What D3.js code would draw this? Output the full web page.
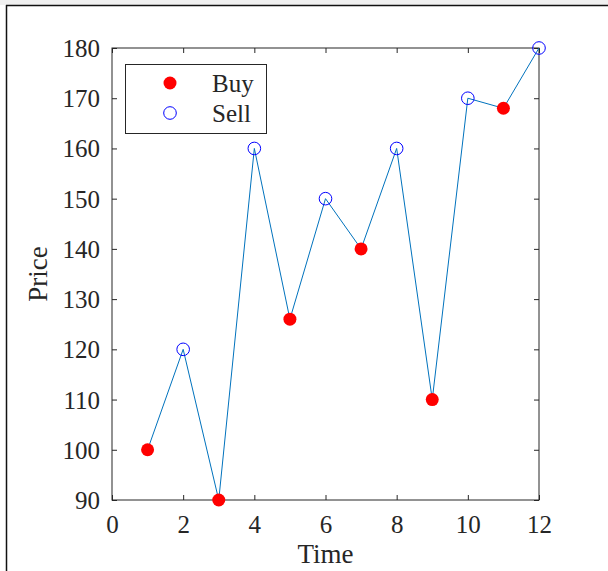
<!DOCTYPE html>
<html>
<head>
<meta charset="utf-8">
<script src="https://cdn.jsdelivr.net/npm/d3@7"></script>
<style>
  body { margin: 0; background: #fff; }
  svg { display: block; }
  text { font-family: "Liberation Serif", "Times New Roman", serif; fill: #262626; }
</style>
</head>
<body>
<div id="container"></div>
<script>
(function(){
    // data
    var times = [1, 2, 3, 4, 5, 6, 7, 8, 9, 10, 11, 12];
    var prices = [100, 120, 90, 160, 126, 150, 140, 160, 110, 170, 168, 180];
    var actions = ["Buy", "Sell", "Buy", "Sell", "Buy", "Sell", "Buy", "Sell", "Buy", "Sell", "Buy", "Sell"];
    var xTicks = [0, 2, 4, 6, 8, 10, 12];
    var yTicks = [90, 100, 110, 120, 130, 140, 150, 160, 170, 180];
    var legendItems = ["Buy", "Sell"];

    window.onload = drawChart();

    function drawChart(){
        var width = 608, height = 571;
        var left = 112, right = 539, top = 48, bottom = 500;

        var svg = d3.select("#container")
            .append("svg")
            .attr("width", width)
            .attr("height", height);

        // figure frame
        svg.append("rect").attr("x", 0).attr("y", 0).attr("width", width).attr("height", 5).attr("fill", "#f0f0f0");
        svg.append("line").attr("x1", 6).attr("x2", width).attr("y1", 5.5).attr("y2", 5.5).attr("stroke", "#111").attr("stroke-width", 1.5);
        svg.append("line").attr("x1", 6.5).attr("x2", 6.5).attr("y1", 5).attr("y2", height).attr("stroke", "#111").attr("stroke-width", 1.5);

        var x = d3.scaleLinear().domain([0, 12]).range([left, right]);
        var y = d3.scaleLinear().domain([90, 180]).range([bottom, top]);

        var tickLen = 5;
        var axisColor = "#262626";

        function styleAxis(g){
            g.select(".domain").remove();
            g.selectAll(".tick line").attr("stroke", axisColor);
        }

        // bottom axis with labels
        svg.append("g")
            .attr("transform", "translate(0," + bottom + ")")
            .call(d3.axisBottom(x).tickValues(xTicks).tickSize(-tickLen).tickFormat(d3.format("d")))
            .call(styleAxis)
            .selectAll("text")
            .attr("y", 33).attr("dy", 0)
            .style("font-size", "25px").attr("fill", axisColor);
        // top mirror ticks
        svg.append("g")
            .attr("transform", "translate(0," + top + ")")
            .call(d3.axisTop(x).tickValues(xTicks).tickSize(-tickLen).tickFormat(""))
            .call(styleAxis);
        // left axis with labels
        svg.append("g")
            .attr("transform", "translate(" + left + ",0)")
            .call(d3.axisLeft(y).tickValues(yTicks).tickSize(-tickLen).tickFormat(d3.format("d")))
            .call(styleAxis)
            .selectAll("text")
            .attr("x", -12).attr("dy", "0.34em")
            .style("font-size", "25px").attr("fill", axisColor);
        // right mirror ticks
        svg.append("g")
            .attr("transform", "translate(" + right + ",0)")
            .call(d3.axisRight(y).tickValues(yTicks).tickSize(-tickLen).tickFormat(""))
            .call(styleAxis);

        // box
        svg.append("rect")
            .attr("x", left).attr("y", top)
            .attr("width", right - left).attr("height", bottom - top)
            .attr("fill", "none").attr("stroke", axisColor).attr("stroke-width", 1);

        // axis labels
        svg.append("text")
            .attr("x", (left + right) / 2).attr("y", 563)
            .attr("text-anchor", "middle")
            .style("font-size", "27px")
            .text("Time");
        svg.append("text")
            .attr("transform", "translate(47," + ((top + bottom) / 2) + ") rotate(-90)")
            .attr("text-anchor", "middle")
            .style("font-size", "27px")
            .text("Price");

        // price line
        var line = d3.line()
            .x(function(d, i){ return x(times[i]); })
            .y(function(d){ return y(d); });
        svg.append("path")
            .datum(prices)
            .attr("d", line)
            .attr("fill", "none")
            .attr("stroke", "#0072BD")
            .attr("stroke-width", 1);

        // markers
        svg.selectAll(".marker")
            .data(prices)
            .enter()
            .append("circle")
            .attr("class", "marker")
            .attr("cx", function(d, i){ return x(times[i]); })
            .attr("cy", function(d){ return y(d); })
            .attr("r", function(d, i){ return actions[i] === "Buy" ? 6.5 : 6.3; })
            .attr("fill", function(d, i){ return actions[i] === "Buy" ? "#ff0000" : "none"; })
            .attr("stroke", function(d, i){ return actions[i] === "Buy" ? "none" : "#0000ff"; })
            .attr("stroke-width", 1);

        // legend
        var legend = svg.append("g");
        legend.append("rect")
            .attr("x", 125.5).attr("y", 64.5)
            .attr("width", 141).attr("height", 69)
            .attr("fill", "#fff").attr("stroke", axisColor).attr("stroke-width", 1);
        var rows = legend.selectAll(".item")
            .data(legendItems)
            .enter()
            .append("g")
            .attr("transform", function(d, i){ return "translate(0," + (83 + i * 30) + ")"; });
        rows.append("circle")
            .attr("cx", 170).attr("cy", 0)
            .attr("r", function(d){ return d === "Buy" ? 6.5 : 6.3; })
            .attr("fill", function(d){ return d === "Buy" ? "#ff0000" : "none"; })
            .attr("stroke", function(d){ return d === "Buy" ? "none" : "#0000ff"; })
            .attr("stroke-width", 1);
        rows.append("text")
            .attr("x", 212).attr("y", 9)
            .style("font-size", "25px")
            .attr("fill", "#000")
            .text(function(d){ return d; });
    }
})();
</script>
</body>
</html>
